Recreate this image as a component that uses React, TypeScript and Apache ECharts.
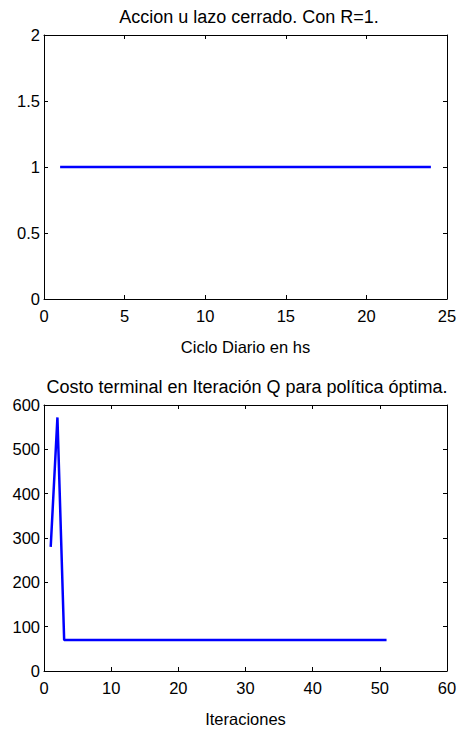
import React, { useEffect, useRef } from "react";
import * as echarts from "echarts";

const hours = Array.from({ length: 24 }, (_, i) => i + 1);
const accion = [1, 1, 1, 1, 1, 1, 1, 1, 1, 1, 1, 1, 1, 1, 1, 1, 1, 1, 1, 1, 1, 1, 1, 1];
const iteraciones = Array.from({ length: 51 }, (_, i) => i + 1);
const costo = [
  280, 572, 70, 70, 70, 70, 70, 70, 70, 70,
  70, 70, 70, 70, 70, 70, 70, 70, 70, 70,
  70, 70, 70, 70, 70, 70, 70, 70, 70, 70,
  70, 70, 70, 70, 70, 70, 70, 70, 70, 70,
  70, 70, 70, 70, 70, 70, 70, 70, 70, 70, 70,
];

const titles = ["Accion u lazo cerrado. Con R=1.", "Costo terminal en Iteración Q para política óptima."];
const xNames = ["Ciclo Diario en hs", "Iteraciones"];

export default function App() {
  const ref = useRef<HTMLDivElement>(null);
  useEffect(() => {
    if (!ref.current) return;
    const chart = echarts.init(ref.current, null, { renderer: "svg" });
    const font = "Liberation Sans, Arial, sans-serif";
    const axLine = { show: true, onZero: false, lineStyle: { color: "#000", width: 1 } };
    const tick = { show: true, inside: true, length: 4, lineStyle: { color: "#000" } };
    const lbl = { color: "#000", fontSize: 16.5, fontFamily: font };
    const mkX = (gi: number, max: number, interval: number, name: string) => [
      {
        type: "value", gridIndex: gi, min: 0, max, interval, position: "bottom",
        axisLine: axLine, axisTick: tick, splitLine: { show: false },
        axisLabel: { ...lbl, margin: 8 },
        name, nameLocation: "middle", nameGap: 39,
        nameTextStyle: { color: "#000", fontSize: 16.5, fontFamily: font },
      },
      {
        type: "value", gridIndex: gi, min: 0, max, interval, position: "top",
        axisLine: axLine, axisTick: tick, splitLine: { show: false },
        axisLabel: { show: false },
      },
    ];
    const mkY = (gi: number, max: number, interval: number) => [
      {
        type: "value", gridIndex: gi, min: 0, max, interval, position: "left",
        axisLine: axLine, axisTick: tick, splitLine: { show: false },
        axisLabel: { ...lbl, margin: 4 },
      },
      {
        type: "value", gridIndex: gi, min: 0, max, interval, position: "right",
        axisLine: axLine, axisTick: tick, splitLine: { show: false },
        axisLabel: { show: false },
      },
    ];
    const titleStyle = { fontSize: 18, fontWeight: "normal", color: "#000", fontFamily: font };
    chart.setOption({
      animation: false,
      backgroundColor: "#fff",
      title: [
        { text: titles[0], left: 244, top: 3, textAlign: "center", textStyle: titleStyle },
        { text: titles[1], left: 242, top: 373, textAlign: "center", textStyle: titleStyle },
      ],
      grid: [
        { left: 44, top: 35, width: 403, height: 264 },
        { left: 44, top: 405, width: 403, height: 266 },
      ],
      xAxis: [...mkX(0, 25, 5, xNames[0]), ...mkX(1, 60, 10, xNames[1])],
      yAxis: [...mkY(0, 2, 0.5), ...mkY(1, 600, 100)],
      series: [
        {
          type: "line", xAxisIndex: 0, yAxisIndex: 0, showSymbol: false,
          data: hours.map((h, i) => [h, accion[i]]),
          lineStyle: { color: "#0000ff", width: 2.5 },
        },
        {
          type: "line", xAxisIndex: 2, yAxisIndex: 2, showSymbol: false,
          data: iteraciones.map((h, i) => [h, costo[i]]),
          lineStyle: { color: "#0000ff", width: 2.5 },
        },
      ],
    });
    return () => chart.dispose();
  }, []);
  return <div ref={ref} style={{ width: 461, height: 730, position: "absolute", left: 0, top: 0 }} />;
}
